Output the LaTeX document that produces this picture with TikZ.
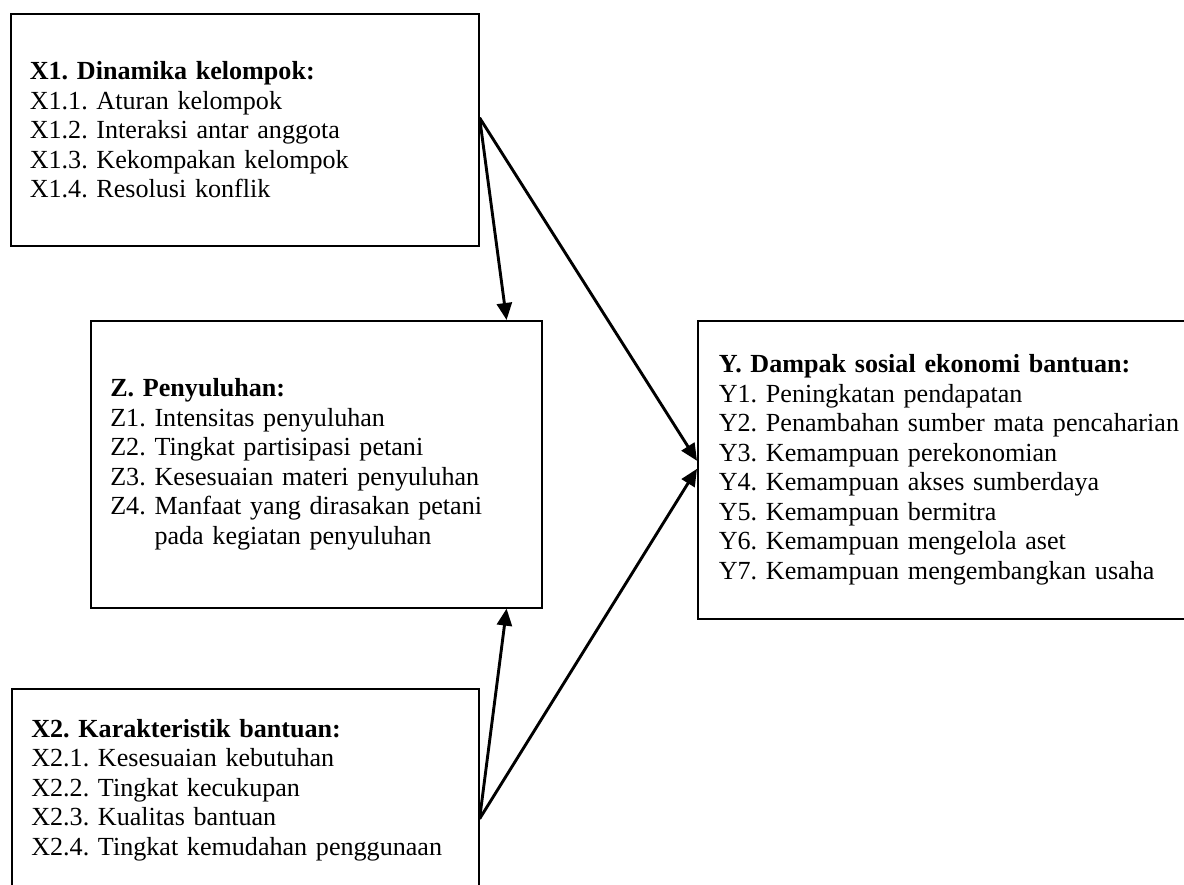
\documentclass[tikz,border=0pt]{standalone}
\usepackage{fontspec}
\setmainfont{Liberation Serif}
\usetikzlibrary{arrows.meta}

\tikzset{
  kotak/.style={draw, line width=1.6pt, align=left, anchor=north west,
    font=\fontsize{26.1}{29.5}\selectfont},
  panah/.style={line width=2.9pt, -{Triangle[length=17pt,width=15pt]}}
}

\begin{document}
\frenchspacing
\begin{tikzpicture}[x=1pt,y=-1pt]
  \useasboundingbox (0,0) rectangle (1184,884);
  \clip (0,0) rectangle (1184,884);

  % Kotak X1
  \node[kotak, minimum width=468pt, minimum height=232pt, inner xsep=18pt,
    text width=430pt] (X1) at (10,13) {%
    \textbf{X1. Dinamika kelompok:}\\
    X1.1. Aturan kelompok\\
    X1.2. Interaksi antar anggota\\
    X1.3. Kekompakan kelompok\\
    X1.4. Resolusi konflik};

  % Kotak Z
  \node[kotak, minimum width=451pt, minimum height=287pt, inner xsep=18pt,
    text width=412pt] (Z) at (90,320) {%
    \textbf{Z. Penyuluhan:}\\
    Z1. Intensitas penyuluhan\\
    Z2. Tingkat partisipasi petani\\
    Z3. Kesesuaian materi penyuluhan\\
    Z4. Manfaat yang dirasakan petani\\
    \phantom{Z4.\ }pada kegiatan penyuluhan};

  % Kotak Y
  \node[kotak, minimum width=520pt, minimum height=298pt, inner xsep=20pt,
    text width=478pt] (Y) at (697,320) {%
    \textbf{Y. Dampak sosial ekonomi bantuan:}\\
    Y1. Peningkatan pendapatan\\
    Y2. Penambahan sumber mata pencaharian\\
    Y3. Kemampuan perekonomian\\
    Y4. Kemampuan akses sumberdaya\\
    Y5. Kemampuan bermitra\\
    Y6. Kemampuan mengelola aset\\
    Y7. Kemampuan mengembangkan usaha};

  % Kotak X2
  \node[kotak, minimum width=467pt, minimum height=202pt, inner xsep=19pt,
    text width=428pt] (X2) at (11,688) {%
    \textbf{X2. Karakteristik bantuan:}\\
    X2.1. Kesesuaian kebutuhan\\
    X2.2. Tingkat kecukupan\\
    X2.3. Kualitas bantuan\\
    X2.4. Tingkat kemudahan penggunaan};

  % Titik ujung panah
  \coordinate (x1out) at ([yshift=12pt]X1.east);
  \coordinate (x2out) at ([yshift=-29pt]X2.east);
  \coordinate (zatas) at ([xshift=-36pt]Z.north east);
  \coordinate (zbawah) at ([xshift=-36pt]Z.south east);
  \coordinate (ykiri1) at ([yshift=9pt]Y.west);
  \coordinate (ykiri2) at ([yshift=1pt]Y.west);

  % Panah
  \draw[panah] (x1out) -- (zatas);
  \draw[panah] (x1out) -- (ykiri1);
  \draw[panah] (x2out) -- (zbawah);
  \draw[panah] (x2out) -- (ykiri2);
\end{tikzpicture}
\end{document}
